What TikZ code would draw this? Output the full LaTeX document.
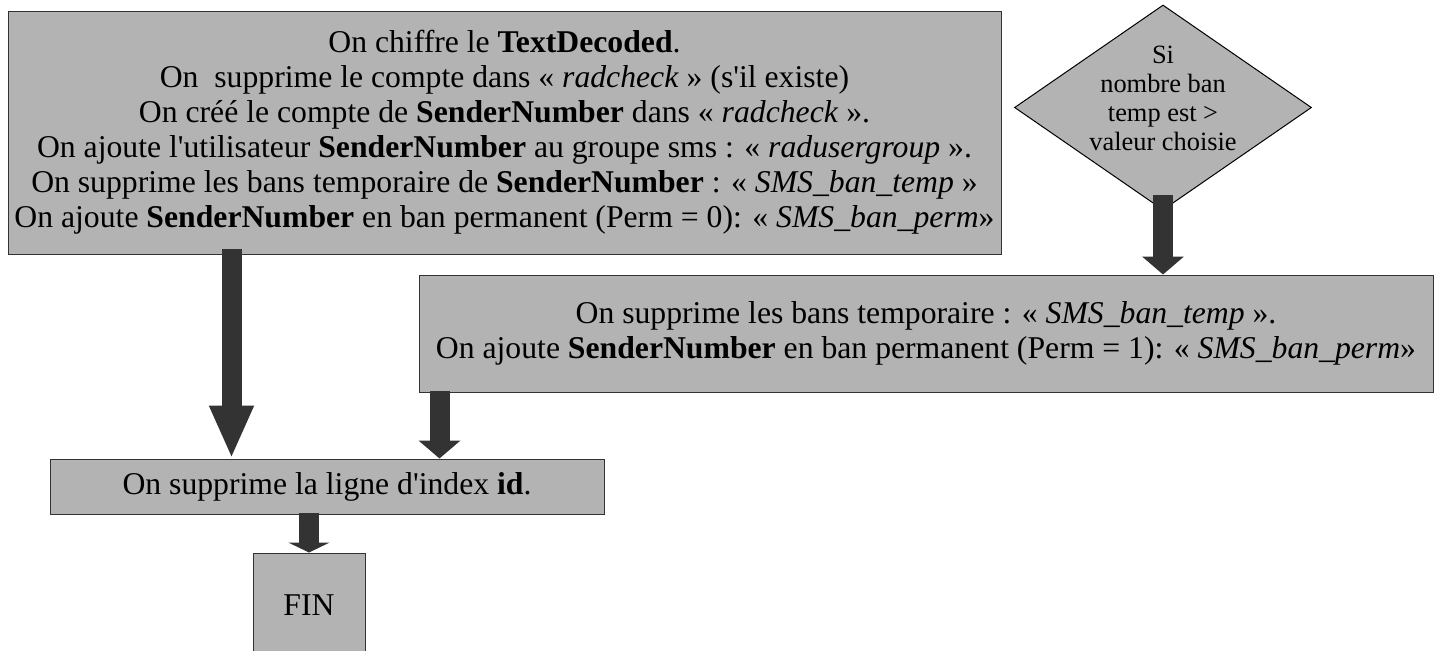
\documentclass[tikz,border=0pt]{standalone}
\usepackage{fontspec}
\setmainfont{Liberation Serif}
\usetikzlibrary{shapes.geometric,arrows.meta}
\definecolor{boxgray}{RGB}{179,179,179}
\definecolor{arrowgray}{RGB}{51,51,51}
\newcommand{\ap}{\textquotesingle}
\begin{document}
\begin{tikzpicture}[x=0.5pt,y=-0.5pt,
  stepbox/.style={rectangle, draw=arrowgray, line width=0.5pt, fill=boxgray, inner sep=0pt, align=center,
    font=\fontsize{15.85}{17.5}\selectfont},
  testbox/.style={diamond, draw=black, line width=0.5pt, fill=boxgray, inner sep=0pt},
  flow/.style={draw=arrowgray, line width=10pt}]
\useasboundingbox (0,0) rectangle (1434,650);
\node[stepbox, minimum width=496.5pt, minimum height=121.5pt] (crypt) at (504.5,132.5){On chiffre le \textbf{TextDecoded}.\\
On~ supprime le compte dans « \textit{radcheck} » (s\ap il existe)\\
On créé le compte de \textbf{SenderNumber} dans « \textit{radcheck} ».\\
On ajoute l\ap utilisateur \textbf{SenderNumber} au groupe sms : « \textit{radusergroup} ».\\
On supprime les bans temporaire de \textbf{SenderNumber} : « \textit{SMS\_ban\_temp} »\\
On ajoute \textbf{SenderNumber} en ban permanent (Perm = 0): « \textit{SMS\_ban\_perm}»};
\node[testbox, minimum width=148.5pt, minimum height=102.5pt,
  label={[align=center, font=\fontsize{13.2}{14.5}\selectfont, yshift=4.5pt]center:Si\\nombre ban\\temp est >\\valeur choisie}] (test) at (1163,107.5){};
\node[stepbox, minimum width=507pt, minimum height=58.5pt] (ban) at (926,333.5){On supprime les bans temporaire : « \textit{SMS\_ban\_temp} ».\\
On ajoute \textbf{SenderNumber} en ban permanent (Perm = 1): « \textit{SMS\_ban\_perm}»};
\node[stepbox, minimum width=277pt, minimum height=27.5pt] (del) at (327,486.5){On supprime la ligne d\ap index \textbf{id}.};
\node[stepbox, minimum width=56pt, minimum height=52pt] (fin) at (309,605){FIN};
\draw[flow, -{Triangle[width=20.5pt, length=26.5pt]}] ([xshift=112pt,yshift=3pt]crypt.south west) -- ([xshift=91pt]del.north west);
\draw[flow, -{Triangle[width=20.5pt, length=9pt]}] ([yshift=8pt]test.south) -- (test.south |- ban.north);
\draw[flow, -{Triangle[width=20.5pt, length=9pt]}] ([xshift=10.5pt,yshift=1pt]ban.south west) -- ([xshift=195pt]del.north west);
\draw[flow, -{Triangle[width=20.5pt, length=5pt]}] ([xshift=-9pt,yshift=1pt]del.south) -- (fin.north);
\end{tikzpicture}
\end{document}
